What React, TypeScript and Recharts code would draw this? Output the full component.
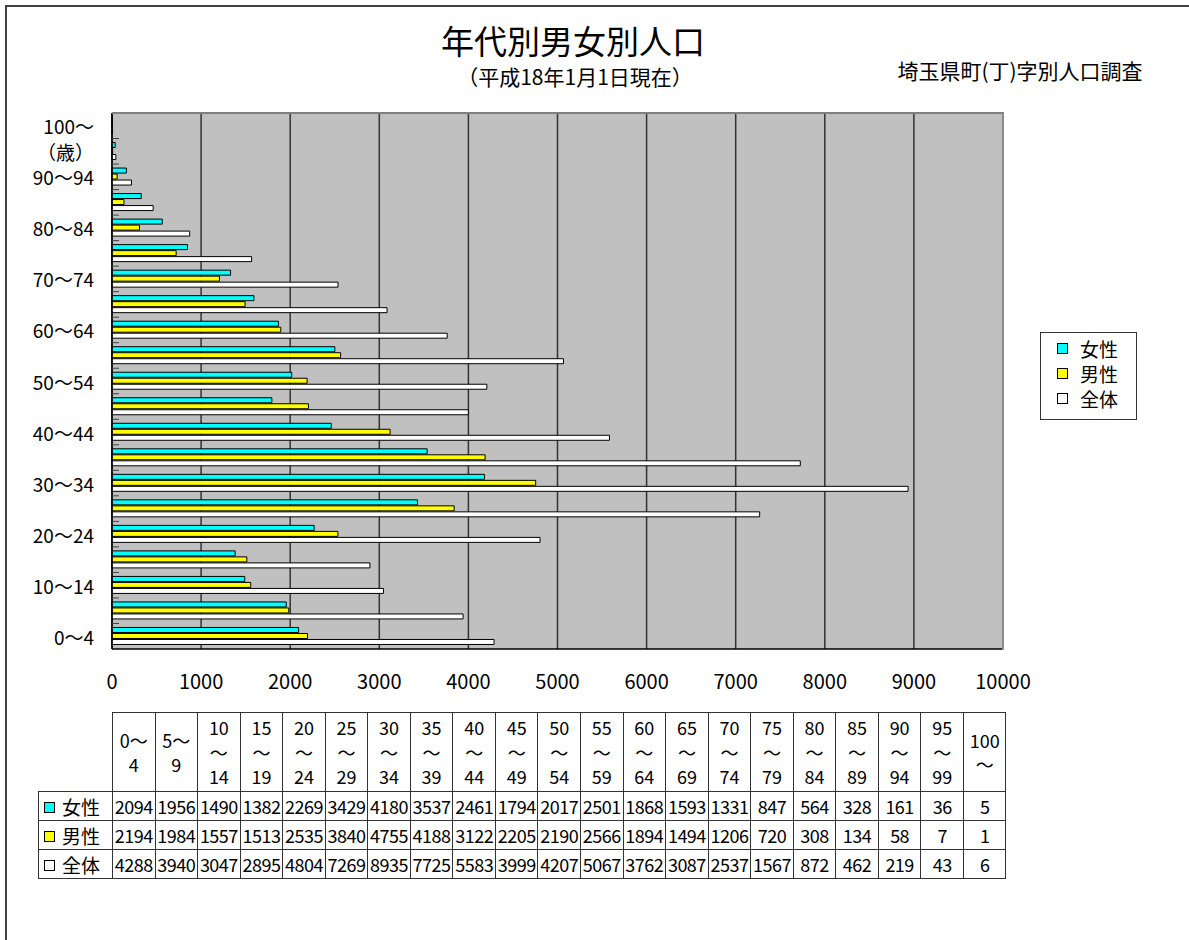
import { Bar, BarChart, CartesianGrid, XAxis, YAxis } from "recharts";

const FONT = '"Noto Sans CJK JP", "Noto Sans", sans-serif';

const ages = [
  "0〜4", "5〜9", "10〜14", "15〜19", "20〜24", "25〜29", "30〜34",
  "35〜39", "40〜44", "45〜49", "50〜54", "55〜59", "60〜64", "65〜69",
  "70〜74", "75〜79", "80〜84", "85〜89", "90〜94", "95〜99", "100〜",
];

// labels shown on the vertical axis (every other group)
const yTickLabels = [
  "0〜4", "", "10〜14", "", "20〜24", "", "30〜34", "", "40〜44", "",
  "50〜54", "", "60〜64", "", "70〜74", "", "80〜84", "", "90〜94",
  "（歳）", "100〜",
];

const female = [
  2094, 1956, 1490, 1382, 2269, 3429, 4180, 3537, 2461, 1794, 2017,
  2501, 1868, 1593, 1331, 847, 564, 328, 161, 36, 5,
];
const male = [
  2194, 1984, 1557, 1513, 2535, 3840, 4755, 4188, 3122, 2205, 2190,
  2566, 1894, 1494, 1206, 720, 308, 134, 58, 7, 1,
];
const total = [
  4288, 3940, 3047, 2895, 4804, 7269, 8935, 7725, 5583, 3999, 4207,
  5067, 3762, 3087, 2537, 1567, 872, 462, 219, 43, 6,
];

const xTicks = [0, 1000, 2000, 3000, 4000, 5000, 6000, 7000, 8000, 9000, 10000];

const series = [
  { key: "female", name: "女性", color: "#00FFFF", values: female },
  { key: "male", name: "男性", color: "#FFFF00", values: male },
  { key: "total", name: "全体", color: "#FFFFFF", values: total },
];

const data = ages.map((age, i) => ({
  age,
  female: female[i],
  male: male[i],
  total: total[i],
}));

// plot box
const PLOT_LEFT = 112;
const PLOT_TOP = 113;
const PLOT_W = 891;
const PLOT_H = 536;
const BAND = PLOT_H / ages.length;
const TICK_MARGIN = 18;

function AgeTick(props: any) {
  const { x, y, payload } = props;
  const i = ages.indexOf(payload.value);
  const label = yTickLabels[i];
  const axisX = x + TICK_MARGIN;
  return (
    <g>
      <line
        x1={axisX}
        x2={axisX + 7}
        y1={y - BAND / 2}
        y2={y - BAND / 2}
        stroke="#404040"
        strokeWidth={1}
      />
      {label ? (
        <text
          x={x}
          y={y}
          textAnchor="end"
          dominantBaseline="central"
          fontSize={19}
          fontFamily={FONT}
          fill="#000"
        >
          {label}
        </text>
      ) : null}
    </g>
  );
}

function headLines(age: string) {
  const [a, b] = age.split("〜");
  if (a.length === 1) return [`${a}〜`, b];
  if (!b) return [a, "〜"];
  return [a, "〜", b];
}

const cell: React.CSSProperties = {
  border: "1px solid #333",
  padding: 0,
  textAlign: "center",
  fontSize: 18,
  lineHeight: "27px",
};

export default function App() {
  return (
    <div
      style={{
        position: "absolute",
        left: 0,
        top: 0,
        width: 1189,
        height: 940,
        background: "#fff",
        overflow: "hidden",
        fontFamily: FONT,
        color: "#000",
      }}
    >
      {/* outer frame */}
      <div
        style={{
          position: "absolute",
          left: 5,
          top: 5,
          width: 1200,
          height: 960,
          borderLeft: "2px solid #404040",
          borderTop: "2px solid #404040",
        }}
      />

      <div
        style={{
          position: "absolute",
          left: 0,
          width: 1146,
          top: 22,
          textAlign: "center",
          fontSize: 33,
          lineHeight: "36px",
        }}
      >
        年代別男女別人口
      </div>
      <div
        style={{
          position: "absolute",
          left: 0,
          width: 1150,
          top: 64,
          textAlign: "center",
          fontSize: 21,
          lineHeight: "24px",
        }}
      >
        （平成18年1月1日現在）
      </div>
      <div
        style={{
          position: "absolute",
          left: 880,
          width: 280,
          top: 57,
          textAlign: "center",
          fontSize: 21,
          lineHeight: "26px",
        }}
      >
        埼玉県町(丁)字別人口調査
      </div>

      <div style={{ position: "absolute", left: 0, top: 0 }}>
        <BarChart
          width={1189}
          height={700}
          data={data}
          layout="vertical"
          margin={{ top: PLOT_TOP, right: 1189 - PLOT_LEFT - PLOT_W, bottom: 11, left: 12 }}
          barSize={5}
          barGap={1}
        >
          <CartesianGrid
            horizontal={false}
            fill="#C0C0C0"
            fillOpacity={1}
            stroke="#333"
            strokeWidth={1.5}
          />
          <XAxis
            type="number"
            domain={[0, 10000]}
            ticks={xTicks}
            interval={0}
            height={40}
            tickLine={false}
            tickSize={0}
            tickMargin={26}
            axisLine={{ stroke: "#000", strokeWidth: 1.5 }}
            tick={{ fill: "#000", fontSize: 20, fontFamily: FONT }}
          />
          <YAxis
            type="category"
            dataKey="age"
            reversed
            interval={0}
            width={100}
            tickLine={false}
            tickSize={0}
            tickMargin={TICK_MARGIN}
            axisLine={{ stroke: "#000", strokeWidth: 1.5 }}
            tick={<AgeTick />}
          />
          {series.map((s) => (
            <Bar
              key={s.key}
              dataKey={s.key}
              name={s.name}
              fill={s.color}
              stroke="#000"
              strokeWidth={1}
              isAnimationActive={false}
            />
          ))}
        </BarChart>
      </div>

      {/* lighter top/right edge of the plot box */}
      <div
        style={{
          position: "absolute",
          left: PLOT_LEFT,
          top: PLOT_TOP - 1,
          width: PLOT_W - 1,
          height: PLOT_H,
          borderTop: "2px solid #808080",
          borderRight: "2px solid #8a8a8a",
          pointerEvents: "none",
        }}
      />

      {/* legend */}
      <div
        style={{
          position: "absolute",
          left: 1040,
          top: 332,
          width: 97,
          height: 88,
          border: "1px solid #333",
          boxSizing: "border-box",
          paddingTop: 3,
        }}
      >
        {series.map((s) => (
          <div
            key={s.key}
            style={{ display: "flex", alignItems: "center", height: 25, paddingLeft: 16 }}
          >
            <span
              style={{
                width: 9,
                height: 9,
                background: s.color,
                border: "1px solid #000",
                marginRight: 12,
              }}
            />
            <span style={{ fontSize: 19 }}>{s.name}</span>
          </div>
        ))}
      </div>

      {/* data table */}
      <table
        style={{
          position: "absolute",
          left: 38,
          top: 712,
          borderCollapse: "collapse",
          tableLayout: "fixed",
          width: 74 + 42.55 * ages.length,
        }}
      >
        <colgroup>
          <col style={{ width: 74 }} />
          {ages.map((a) => (
            <col key={a} style={{ width: 42.55 }} />
          ))}
        </colgroup>
        <tbody>
          <tr style={{ height: 79 }}>
            <td style={{ padding: 0, borderRight: "1px solid #333" }} />
            {ages.map((a) => (
              <td key={a} style={{ ...cell, lineHeight: "24.5px" }}>
                {headLines(a).map((t, k) => (
                  <div key={k}>{t}</div>
                ))}
              </td>
            ))}
          </tr>
          {series.map((s) => (
            <tr key={s.key} style={{ height: 29 }}>
              <td style={{ ...cell, textAlign: "left", paddingLeft: 5, fontSize: 19 }}>
                <span
                  style={{
                    display: "inline-block",
                    width: 9,
                    height: 9,
                    background: s.color,
                    border: "1px solid #000",
                    marginRight: 7,
                    verticalAlign: "middle",
                    position: "relative",
                    top: -2,
                  }}
                />
                {s.name}
              </td>
              {s.values.map((v, i) => (
                <td key={i} style={{ ...cell, letterSpacing: -0.5 }}>
                  {v}
                </td>
              ))}
            </tr>
          ))}
        </tbody>
      </table>
    </div>
  );
}
